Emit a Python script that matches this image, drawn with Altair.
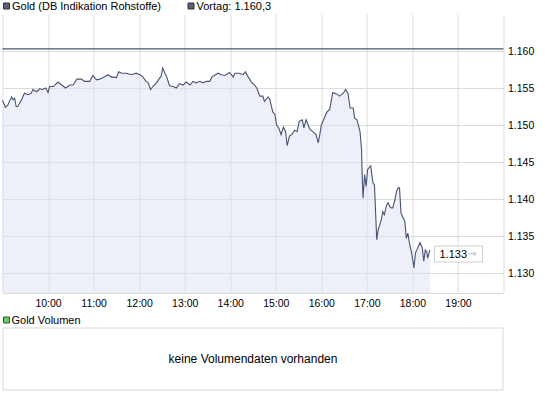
import altair as alt
import pandas as pd

# ---- data ----
times = ["09:00","09:04","09:07","09:12","09:14","09:16","09:18","09:20","09:25","09:29",
         "09:34","09:38","09:40","09:45","09:49","09:53","09:57","10:00","10:02","10:07",
         "10:09","10:13","10:18","10:23","10:29","10:33","10:38","10:44","10:48","10:55",
         "10:59","11:04","11:08","11:12","11:19","11:23","11:30","11:33","11:37","11:43",
         "11:50","11:56","12:01","12:05","12:09","12:12","12:15","12:18","12:23","12:26",
         "12:29","12:31","12:34","12:36","12:40","12:45","12:49","12:53","12:58","13:02",
         "13:07","13:11","13:15","13:20","13:24","13:29","13:33","13:36","13:44","13:48",
         "13:53","13:59","14:04","14:06","14:12","14:17","14:20","14:23","14:28","14:32",
         "14:35","14:39","14:43","14:45","14:50","14:52","14:56","14:59","15:01","15:04",
         "15:07","15:10","15:13","15:15","15:18","15:21","15:25","15:28","15:31","15:35",
         "15:37","15:40","15:45","15:49","15:53","15:56","15:58","16:00","16:03","16:07",
         "16:11","16:13","16:15","16:20","16:24","16:29","16:32","16:35","16:38","16:42",
         "16:44","16:47","16:51","16:53","16:54","16:55","16:57","16:59","17:01","17:05",
         "17:08","17:10","17:12","17:13","17:15","17:17","17:19","17:21","17:23","17:26",
         "17:28","17:30","17:32","17:34","17:37","17:39","17:41","17:43","17:45","17:48",
         "17:50","17:52","17:54","17:56","17:59","18:01","18:02","18:04","18:07","18:10",
         "18:13","18:15","18:17","18:19","18:20","18:23"]
prices = [1.1533,1.1524,1.1527,1.1538,1.1534,1.1536,1.1525,1.1525,1.1534,1.1543,
          1.1541,1.1543,1.1548,1.1545,1.1549,1.1548,1.1550,1.1544,1.1552,1.1552,
          1.1554,1.1558,1.1554,1.1550,1.1554,1.1554,1.1562,1.1562,1.1559,1.1559,
          1.1567,1.1561,1.1562,1.1564,1.1568,1.1565,1.1564,1.1572,1.1570,1.1570,
          1.1568,1.1570,1.1568,1.1565,1.1559,1.1557,1.1548,1.1552,1.1557,1.1562,
          1.1566,1.1577,1.1570,1.1566,1.1553,1.1552,1.1550,1.1556,1.1554,1.1558,
          1.1554,1.1559,1.1557,1.1559,1.1557,1.1559,1.1559,1.1565,1.1570,1.1568,
          1.1567,1.1571,1.1565,1.1570,1.1570,1.1568,1.1572,1.1566,1.1558,1.1554,
          1.1550,1.1539,1.1539,1.1532,1.1538,1.1535,1.1518,1.1514,1.1500,1.1496,
          1.1487,1.1497,1.1491,1.1472,1.1485,1.1487,1.1493,1.1491,1.1505,1.1507,
          1.1496,1.1507,1.1494,1.1491,1.1487,1.1476,1.1487,1.1500,1.1507,1.1517,
          1.1521,1.1532,1.1544,1.1542,1.1539,1.1543,1.1548,1.1543,1.1523,1.1523,
          1.1509,1.1507,1.1491,1.1467,1.1426,1.1401,1.1433,1.1417,1.1440,1.1445,
          1.1422,1.1419,1.1370,1.1345,1.1359,1.1365,1.1372,1.1383,1.1379,1.1392,
          1.1395,1.1390,1.1388,1.1388,1.1399,1.1410,1.1415,1.1415,1.1381,1.1374,
          1.1370,1.1347,1.1354,1.1341,1.1327,1.1314,1.1307,1.1327,1.1334,1.1341,
          1.1334,1.1316,1.1331,1.1328,1.1320,1.1331]

prev_close = 1.1603
last_label = "1.133"
y_ticks = [1.130, 1.135, 1.140, 1.145, 1.150, 1.155, 1.160]
y_domain = [1.1273, 1.1650]
x_hours = [9, 10, 11, 12, 13, 14, 15, 16, 17, 18, 19, 20]
header_series = "Gold (DB Indikation Rohstoffe)"
header_prev = "Vortag: 1.160,3"
volume_title = "Gold Volumen"
volume_note = "keine Volumendaten vorhanden"

# ---- build table ----
hours = [int(t[:2]) + int(t[3:]) / 60 for t in times]
df = pd.DataFrame({"hour": hours, "price": prices})

FONT = "Liberation Sans"
LINE = "#48536f"
GRID = "#dcdcdc"

x_enc = alt.X("hour:Q",
              scale=alt.Scale(domain=[9, 20], nice=False, zero=False),
              axis=alt.Axis(values=x_hours, grid=True, gridColor=GRID, domainColor=GRID,
                            ticks=False, labelPadding=5, labelFontSize=10.5,
                            labelFont=FONT, labelColor="#000000", title=None,
                            labelFlush=False,
                            labelExpr="(datum.value == 9 || datum.value == 20) ? '' : ((datum.value < 10 ? '0' : '') + datum.value + ':00')"))
y_enc = alt.Y("price:Q",
              scale=alt.Scale(domain=y_domain, nice=False, zero=False),
              axis=alt.Axis(orient="right", values=y_ticks, format=".3f", grid=True,
                            gridColor=GRID, domain=False, ticks=False, labelPadding=4,
                            labelFontSize=10.5, labelFont=FONT, labelColor="#000000",
                            title=None))

area = alt.Chart(df).mark_area(color="#dce2f4", opacity=0.5).encode(
    x=x_enc, y=y_enc, y2=alt.datum(y_domain[0]))
line = alt.Chart(df).mark_line(color=LINE, strokeWidth=1.1).encode(
    x="hour:Q", y="price:Q")
vortag = alt.Chart(pd.DataFrame({"p": [prev_close]})).mark_rule(
    color="#4b5572", strokeWidth=1.3).encode(y="p:Q")

one = pd.DataFrame({"a": [0]})

# header legend
sq1 = alt.Chart(one).mark_rect(fill="#5a6275", stroke="#2e3340", strokeWidth=1).encode(
    x=alt.value(1), x2=alt.value(7), y=alt.value(-11), y2=alt.value(-5))
sq2 = alt.Chart(one).mark_rect(fill="#5a6275", stroke="#2e3340", strokeWidth=1).encode(
    x=alt.value(185.5), x2=alt.value(191.5), y=alt.value(-11), y2=alt.value(-5))
t1 = alt.Chart(pd.DataFrame({"t": [header_series]})).mark_text(
    align="left", baseline="middle", font=FONT, fontSize=11, color="#000000").encode(
    x=alt.value(9.5), y=alt.value(-7.5), text="t:N")
t2 = alt.Chart(pd.DataFrame({"t": [header_prev]})).mark_text(
    align="left", baseline="middle", font=FONT, fontSize=11, color="#000000").encode(
    x=alt.value(194), y=alt.value(-7.5), text="t:N")

# last price label box
box = alt.Chart(one).mark_rect(fill="white", stroke="#d0d0d0", strokeWidth=1).encode(
    x=alt.value(432), x2=alt.value(480), y=alt.value(232), y2=alt.value(248))
lbl = alt.Chart(pd.DataFrame({"t": [last_label]})).mark_text(
    align="left", baseline="middle", font=FONT, fontSize=11, color="#000000").encode(
    x=alt.value(437), y=alt.value(240.5), text="t:N")
arrow = alt.Chart(pd.DataFrame({"t": ["\u2192"]})).mark_text(
    align="center", baseline="middle", font="DejaVu Sans", fontSize=10,
    fontWeight="bold", color="#c4c4c4").encode(
    x=alt.value(470), y=alt.value(240), text="t:N")

# volume panel
sq3 = alt.Chart(one).mark_rect(fill="#66cc66", stroke="#2e5e2e", strokeWidth=1).encode(
    x=alt.value(1), x2=alt.value(7), y=alt.value(303), y2=alt.value(309))
t3 = alt.Chart(pd.DataFrame({"t": [volume_title]})).mark_text(
    align="left", baseline="middle", font=FONT, fontSize=11, color="#000000").encode(
    x=alt.value(9), y=alt.value(306.5), text="t:N")
vbox = alt.Chart(one).mark_rect(fill="white", stroke="#d8d8d8", strokeWidth=1).encode(
    x=alt.value(0.5), x2=alt.value(500.5), y=alt.value(314), y2=alt.value(376))
t4 = alt.Chart(pd.DataFrame({"t": [volume_note]})).mark_text(
    align="center", baseline="middle", font=FONT, fontSize=12, color="#000000").encode(
    x=alt.value(250.5), y=alt.value(345), text="t:N")

chart = alt.layer(area, line, vortag, box, lbl, arrow, sq1, sq2, t1, t2,
                  vbox, sq3, t3, t4).properties(
    width=501, height=279,
    padding={"left": 2.5, "top": 14, "right": 41.5, "bottom": 102},
    autosize=alt.AutoSizeParams(type="none"),
    background="white",
).configure_view(stroke=None)

chart.save("out.html", embed_options={"renderer": "svg", "actions": False})
